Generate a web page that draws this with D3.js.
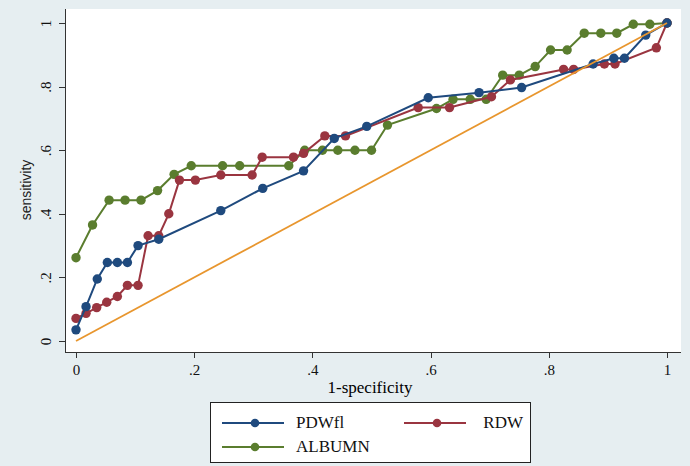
<!DOCTYPE html>
<meta charset="utf-8">
<style>
body { margin: 0; background: #e6eef1; }
svg { display: block; }
.axis path, .axis line { stroke: #333; stroke-width: 1; shape-rendering: crispEdges; }
.axis text { font-family: "Times New Roman", "Liberation Serif", Times, serif; font-size: 15px; fill: #111; }
.legend text { font-family: "Times New Roman", "Liberation Serif", Times, serif; font-size: 17px; fill: #111; }
</style>
<body>
<script src="https://cdnjs.cloudflare.com/ajax/libs/d3/7.8.5/d3.min.js"></script>
<script>
// ROC curves
var pdwX = [0, 0.017, 0.036, 0.053, 0.070, 0.087, 0.105, 0.140, 0.245, 0.316, 0.385, 0.437, 0.492, 0.596, 0.682, 0.754, 0.875, 0.910, 0.928, 0.964, 1];
var pdwY = [0.035, 0.108, 0.195, 0.247, 0.247, 0.247, 0.300, 0.320, 0.410, 0.480, 0.535, 0.637, 0.675, 0.765, 0.781, 0.797, 0.871, 0.889, 0.889, 0.962, 1];

var rdwX = [0, 0.017, 0.035, 0.052, 0.070, 0.087, 0.105, 0.122, 0.140, 0.157, 0.175, 0.202, 0.245, 0.298, 0.315, 0.368, 0.385, 0.421, 0.456, 0.579, 0.632, 0.703, 0.735, 0.825, 0.842, 0.894, 0.912, 0.982, 1];
var rdwY = [0.071, 0.087, 0.105, 0.122, 0.140, 0.175, 0.175, 0.331, 0.331, 0.400, 0.506, 0.506, 0.522, 0.522, 0.578, 0.578, 0.590, 0.645, 0.645, 0.734, 0.734, 0.768, 0.821, 0.854, 0.854, 0.871, 0.871, 0.922, 1];

var albX = [0, 0.028, 0.056, 0.083, 0.110, 0.138, 0.166, 0.195, 0.248, 0.277, 0.360, 0.387, 0.417, 0.443, 0.472, 0.500, 0.527, 0.610, 0.638, 0.667, 0.694, 0.722, 0.750, 0.777, 0.803, 0.831, 0.860, 0.888, 0.915, 0.943, 0.971, 1];
var albY = [0.262, 0.365, 0.443, 0.443, 0.443, 0.473, 0.524, 0.551, 0.551, 0.551, 0.551, 0.600, 0.600, 0.600, 0.600, 0.600, 0.679, 0.731, 0.760, 0.760, 0.760, 0.836, 0.836, 0.863, 0.915, 0.915, 0.968, 0.968, 0.968, 0.996, 0.996, 1];

var refX = [0, 1];
var refY = [0, 1];

var tickVals = [0, 0.2, 0.4, 0.6, 0.8, 1];
var tickLabels = ["0", ".2", ".4", ".6", ".8", "1"];

var seriesNames = ["PDWfl", "RDW", "ALBUMN"];
var seriesColors = ["#1f4a7e", "#9a3540", "#5a7d2e"];

var width = 690, height = 466;
var serif = '"Times New Roman", "Liberation Serif", Times, serif';

var x = d3.scaleLinear().domain([0, 1]).range([76, 667]);
var y = d3.scaleLinear().domain([0, 1]).range([341, 23]);

var svg = d3.select("body").append("svg")
    .attr("width", width)
    .attr("height", height);

// white plot region
svg.append("rect")
    .attr("x", 65).attr("y", 9)
    .attr("width", 616).attr("height", 343)
    .attr("fill", "#fff");

var xAxis = d3.axisBottom(x)
    .tickValues(tickVals)
    .tickFormat(function(d, i) { return tickLabels[i]; })
    .tickSizeOuter(0)
    .tickSize(6)
    .tickPadding(6);

var yAxis = d3.axisLeft(y)
    .tickValues(tickVals)
    .tickFormat(function(d, i) { return tickLabels[i]; })
    .tickSizeOuter(0)
    .tickSize(6);

var gx = svg.append("g")
    .attr("class", "x axis")
    .attr("transform", "translate(0,352)")
    .call(xAxis);
gx.select(".domain").attr("d", "M65,0.5H681");

var gy = svg.append("g")
    .attr("class", "y axis")
    .attr("transform", "translate(65,0)")
    .call(yAxis);
gy.select(".domain").attr("d", "M0.5,9V352");
gy.selectAll(".tick text")
    .attr("x", 0).attr("dy", 0)
    .attr("text-anchor", "middle")
    .attr("transform", "translate(-14,0) rotate(-90)");

svg.append("text")
    .attr("x", 370).attr("y", 393)
    .attr("text-anchor", "middle")
    .style("font-family", serif)
    .style("font-size", "17px")
    .text("1-specificity");

svg.append("text")
    .attr("transform", "translate(31,190) rotate(-90)")
    .attr("text-anchor", "middle")
    .style("font-family", "'Liberation Sans', Arial, sans-serif")
    .style("font-size", "14px")
    .attr("fill", "#222")
    .text("sensitivity");

var line = d3.line()
    .x(function(d) { return x(d[0]); })
    .y(function(d) { return y(d[1]); });

var series = [
  d3.zip(pdwX, pdwY),
  d3.zip(rdwX, rdwY),
  d3.zip(albX, albY)
];

// draw albumn first, then rdw, then pdw on top
[2, 1, 0].forEach(function(i) {
  var g = svg.append("g");
  g.append("path")
      .attr("d", line(series[i]))
      .attr("fill", "none")
      .attr("stroke", seriesColors[i])
      .attr("stroke-width", 2);
  g.selectAll("circle")
      .data(series[i])
    .enter().append("circle")
      .attr("cx", function(d) { return x(d[0]); })
      .attr("cy", function(d) { return y(d[1]); })
      .attr("r", 4.7)
      .attr("fill", seriesColors[i]);
});

svg.append("path")
    .attr("d", line(d3.zip(refX, refY)))
    .attr("fill", "none")
    .attr("stroke", "#e8962e")
    .attr("stroke-width", 1.8);

// legend
var legend = svg.append("g").attr("class", "legend");
legend.append("rect")
    .attr("x", 210.5).attr("y", 402.5)
    .attr("width", 320).attr("height", 60)
    .attr("fill", "#fff")
    .attr("stroke", "#222");

var legPos = [[222, 423], [404, 423], [222, 447]];
seriesNames.forEach(function(name, i) {
  var p = legPos[i];
  legend.append("line")
      .attr("x1", p[0]).attr("x2", p[0] + 62)
      .attr("y1", p[1]).attr("y2", p[1])
      .attr("stroke", seriesColors[i])
      .attr("stroke-width", 2);
  legend.append("circle")
      .attr("cx", p[0] + 33).attr("cy", p[1])
      .attr("r", 4.3)
      .attr("fill", seriesColors[i]);
  legend.append("text")
      .attr("x", i == 1 ? 523 : p[0] + 74)
      .attr("y", p[1] + 5)
      .attr("text-anchor", i == 1 ? "end" : "start")
      .text(name);
});
</script>
</body>
